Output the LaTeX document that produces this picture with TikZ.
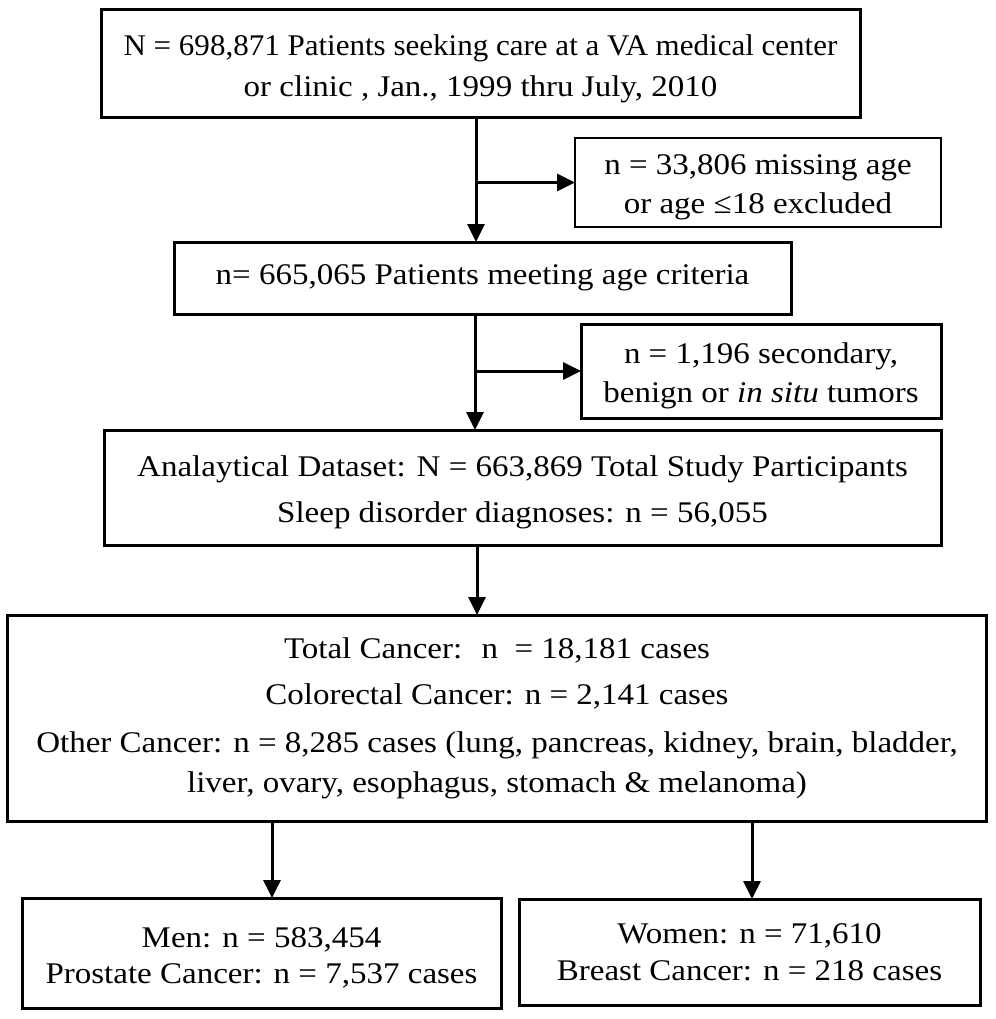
\documentclass[tikz,border=0pt]{standalone}
\usepackage{fontspec}
\setmainfont{Liberation Serif}[FakeStretch=1.1]
\usetikzlibrary{arrows.meta}
\newcommand{\lowr}{\rule{0pt}{1.0em}}
\begin{document}
\begin{tikzpicture}[x=1pt,y=-1pt,
  box/.style={draw=black,line width=3pt,inner sep=0pt,outer sep=0pt,align=center,
    font=\fontsize{30}{41}\selectfont},
  thinbox/.style={box,line width=1.2pt},
  arr/.style={line width=3pt,-{Triangle[length=18pt,width=17pt]}}]
\useasboundingbox (0,0) rectangle (995,1019);
\node[box,minimum width=759pt,minimum height=108pt] (b1) at (480.5,64)
  {\lowr\scalebox{0.94}[1]{N = 698,871 Patients seeking care at a VA medical center}\\or clinic , Jan., 1999 thru July, 2010};
\node[thinbox,minimum width=366pt,minimum height=89pt,font=\fontsize{30}{39}\selectfont] (s1) at (758,182.5)
  {\lowr n = 33,806 missing age\\or age ≤18 excluded};
\node[box,minimum width=617pt,minimum height=72pt] (b2) at (482.5,278)
  {n= 665,065 Patients meeting age criteria};
\node[box,minimum width=360pt,minimum height=94pt,font=\fontsize{30}{39}\selectfont] (s2) at (761,371)
  {\lowr n = 1,196 secondary,\\benign or \textit{in situ} tumors};
\node[box,minimum width=837pt,minimum height=115pt,font=\fontsize{30}{46}\selectfont] (b3) at (522.5,487.5)
  {\lowr Analaytical Dataset: N = 663,869 Total Study Participants\\Sleep disorder diagnoses: n = 56,055};
\node[box,minimum width=979pt,minimum height=206pt,font=\fontsize{30}{40}\selectfont] (b4) at (497,718)
  {Total Cancer:~ n ~= 18,181 cases\\[6pt]Colorectal Cancer: n = 2,141 cases\\[8pt]Other Cancer: n = 8,285 cases (lung, pancreas, kidney, brain, bladder,\\liver, ovary, esophagus, stomach \& melanoma)};
\node[box,minimum width=479pt,minimum height=110pt,font=\fontsize{30}{36}\selectfont] (b5) at (261.5,953)
  {\lowr Men: n = 583,454\\Prostate Cancer: n = 7,537 cases};
\node[box,minimum width=461pt,minimum height=106pt,font=\fontsize{30}{37}\selectfont] (b6) at (749.5,952)
  {Women: n = 71,610\\Breast Cancer: n = 218 cases};
\coordinate (v1) at (476,0);
\coordinate (v2) at (475,0);
\coordinate (v3) at (477,0);
\coordinate (v4) at (272,0);
\coordinate (v5) at (752,0);
\draw[arr] (v1 |- b1.south) -- (v1 |- b2.north);
\draw[arr] (v1 |- s1.west) -- (s1.west);
\draw[arr] (v2 |- b2.south) -- (v2 |- b3.north);
\draw[arr] (v2 |- s2.west) -- (s2.west);
\draw[arr] (v3 |- b3.south) -- (v3 |- b4.north);
\draw[arr] (v4 |- b4.south) -- (v4 |- b5.north);
\draw[arr] (v5 |- b4.south) -- (v5 |- b6.north);
\end{tikzpicture}
\end{document}
